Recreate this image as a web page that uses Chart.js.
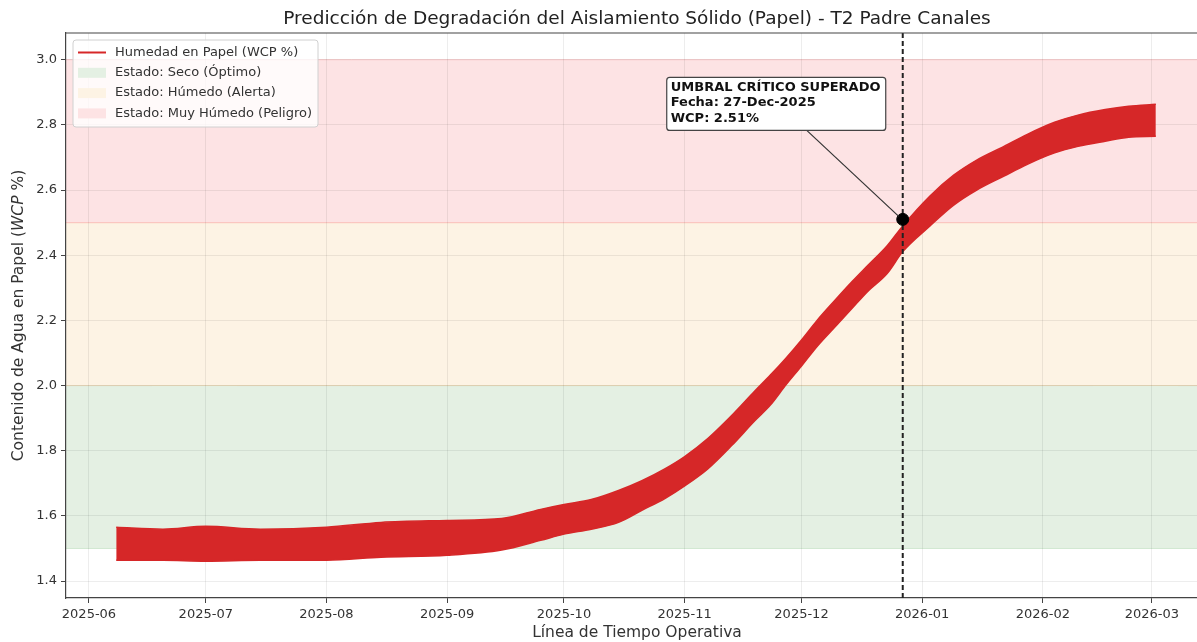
<!DOCTYPE html>
<html lang="es">
<head>
<meta charset="UTF-8">
<title>Predicción de Degradación del Aislamiento Sólido (Papel)</title>
<script src="https://cdn.jsdelivr.net/npm/chart.js"></script>
<style>
  html, body { margin: 0; padding: 0; background: #fff; overflow: hidden; }
  #wrap { width: 1197px; height: 642px; overflow: hidden; }
</style>
</head>
<body>
<div id="wrap"><canvas id="wcp-chart" width="1215" height="642"></canvas></div>
<script>
// envelope of the noisy WCP series at these dates
const sampleDates = [
  '2025-06-08', '2025-06-20', '2025-07-01', '2025-07-15', '2025-08-01', '2025-08-15',
  '2025-09-01', '2025-09-15', '2025-09-25', '2025-10-01', '2025-10-08', '2025-10-15',
  '2025-10-21', '2025-10-27', '2025-11-01', '2025-11-07', '2025-11-13', '2025-11-19',
  '2025-11-23', '2025-11-27', '2025-12-01', '2025-12-05', '2025-12-10', '2025-12-14',
  '2025-12-18', '2025-12-23', '2025-12-27', '2026-01-03', '2026-01-09', '2026-01-15',
  '2026-01-22', '2026-01-28', '2026-02-04', '2026-02-10', '2026-02-17', '2026-02-23',
  '2026-03-02'
];
const wcpUpper = [
  1.565, 1.559, 1.568, 1.559, 1.565, 1.580,
  1.586, 1.592, 1.620, 1.635, 1.650, 1.678,
  1.708, 1.745, 1.782, 1.838, 1.907, 1.983,
  2.032, 2.084, 2.140, 2.200, 2.267, 2.319,
  2.368, 2.429, 2.490, 2.582, 2.645, 2.692,
  2.734, 2.771, 2.808, 2.830, 2.847, 2.857,
  2.863
];
const wcpLower = [
  1.464, 1.464, 1.461, 1.464, 1.464, 1.473,
  1.479, 1.495, 1.525, 1.544, 1.559, 1.580,
  1.617, 1.654, 1.692, 1.745, 1.815, 1.892,
  1.940, 2.002, 2.060, 2.120, 2.185, 2.237,
  2.289, 2.344, 2.411, 2.490, 2.553, 2.600,
  2.643, 2.679, 2.714, 2.734, 2.750, 2.762,
  2.765
];

const monthTicks = ['2025-06', '2025-07', '2025-08', '2025-09', '2025-10', '2025-11',
                    '2025-12', '2026-01', '2026-02', '2026-03'];
const yTicks = [1.4, 1.6, 1.8, 2.0, 2.2, 2.4, 2.6, 2.8, 3.0];

const zoneNames = ['Estado: Seco (Óptimo)', 'Estado: Húmedo (Alerta)', 'Estado: Muy Húmedo (Peligro)'];
const zoneLimits = [[1.5, 2.0], [2.0, 2.5], [2.5, 3.0]];

const thresholdDate = '2025-12-27';
const thresholdValue = 2.51;
const seriesName = 'Humedad en Papel (WCP %)';

// styles
const zoneFill = ['rgb(228,240,227)', 'rgb(253,243,228)', 'rgb(253,227,228)'];
const zoneEdge = ['rgba(150,200,150,0.35)', 'rgba(240,200,150,0.45)', 'rgba(250,150,150,0.45)'];
const lineRed = '#d62728';
const FONT = '"DejaVu Sans", Verdana, sans-serif';

// days since 2025-06-01
function dayNum(s) {
  const p = s.split('-').map(Number);
  return (Date.UTC(p[0], p[1] - 1, p[2] || 1) - Date.UTC(2025, 5, 1)) / 86400000;
}

const upperPts = sampleDates.map((d, i) => ({ x: dayNum(d), y: wcpUpper[i] }));
const lowerPts = sampleDates.map((d, i) => ({ x: dayNum(d), y: wcpLower[i] }));
const monthValues = monthTicks.map(m => dayNum(m + '-01'));

const decor = {
  id: 'decor',
  beforeDraw(chart) {
    const { ctx, chartArea: a, scales: { y } } = chart;
    ctx.save();
    zoneLimits.forEach((lim, i) => {
      const top = y.getPixelForValue(lim[1]);
      const bot = y.getPixelForValue(lim[0]);
      ctx.fillStyle = zoneFill[i];
      ctx.fillRect(a.left, top, a.right - a.left, bot - top);
      ctx.strokeStyle = zoneEdge[i];
      ctx.lineWidth = 1;
      ctx.beginPath();
      ctx.moveTo(a.left, top); ctx.lineTo(a.right, top);
      ctx.moveTo(a.left, bot); ctx.lineTo(a.right, bot);
      ctx.stroke();
    });
    ctx.restore();
  },
  afterDatasetDraw(chart, args) {
    if (args.index !== 2) return;
    const { ctx, chartArea: a, scales: { x } } = chart;
    const px = x.getPixelForValue(dayNum(thresholdDate));
    ctx.save();
    ctx.strokeStyle = '#222';
    ctx.lineWidth = 2;
    ctx.setLineDash([5, 3]);
    ctx.beginPath();
    ctx.moveTo(px, a.top);
    ctx.lineTo(px, a.bottom);
    ctx.stroke();
    ctx.restore();
  },
  afterDraw(chart) {
    const { ctx, chartArea: a, scales: { x, y } } = chart;
    ctx.save();

    // top spine
    ctx.strokeStyle = '#444';
    ctx.lineWidth = 1.2;
    ctx.beginPath();
    ctx.moveTo(a.left, a.top); ctx.lineTo(a.right, a.top);
    ctx.stroke();

    // title
    const cx = (a.left + a.right) / 2;
    ctx.fillStyle = '#222';
    ctx.textAlign = 'center';
    ctx.textBaseline = 'middle';
    ctx.font = '18.5px ' + FONT;
    ctx.fillText('Predicción de Degradación del Aislamiento Sólido (Papel) - T2 Padre Canales', cx, 19);

    // x title
    ctx.font = '15.5px ' + FONT;
    ctx.fillStyle = '#333';
    ctx.fillText('Línea de Tiempo Operativa', cx, 633);

    // y title, WCP in italics
    const parts = [['Contenido de Agua en Papel (', 'normal'], ['WCP', 'italic'], [' %)', 'normal']];
    const widths = parts.map(p => { ctx.font = p[1] + ' 15.5px ' + FONT; return ctx.measureText(p[0]).width; });
    const total = widths.reduce((s, w) => s + w, 0);
    ctx.translate(19, (a.top + a.bottom) / 2);
    ctx.rotate(-Math.PI / 2);
    ctx.textAlign = 'left';
    let tx = -total / 2;
    parts.forEach((p, i) => {
      ctx.font = p[1] + ' 15.5px ' + FONT;
      ctx.fillText(p[0], tx, 0);
      tx += widths[i];
    });
    ctx.setTransform(1, 0, 0, 1, 0, 0);

    // legend
    const lx = a.left + 7, ly = a.top + 7, lw = 245, lh = 87;
    ctx.fillStyle = 'rgba(255,255,255,0.8)';
    ctx.strokeStyle = '#d0d0d0';
    ctx.lineWidth = 1;
    ctx.beginPath();
    ctx.roundRect(lx, ly, lw, lh, 3);
    ctx.fill();
    ctx.stroke();
    const rows = [seriesName].concat(zoneNames);
    ctx.font = '13px ' + FONT;
    ctx.textAlign = 'left';
    ctx.textBaseline = 'middle';
    rows.forEach((label, i) => {
      const ry = ly + 12.5 + i * 20.3;
      if (i === 0) {
        ctx.strokeStyle = lineRed;
        ctx.lineWidth = 2;
        ctx.beginPath();
        ctx.moveTo(lx + 5, ry); ctx.lineTo(lx + 33, ry);
        ctx.stroke();
      } else {
        ctx.fillStyle = zoneFill[i - 1];
        ctx.fillRect(lx + 5, ry - 5, 28, 10);
      }
      ctx.fillStyle = '#333';
      ctx.fillText(label, lx + 42, ry);
    });

    // annotation box + arrow
    const mx = x.getPixelForValue(dayNum(thresholdDate));
    const my = y.getPixelForValue(thresholdValue);
    const bx = mx - 236, by = my - 142, bw = 219, bh = 53;
    ctx.strokeStyle = '#333';
    ctx.lineWidth = 1.2;
    ctx.beginPath();
    ctx.moveTo(mx - 96, by + bh);
    ctx.lineTo(mx - 4, my - 3);
    ctx.stroke();
    ctx.fillStyle = '#fff';
    ctx.strokeStyle = '#444';
    ctx.beginPath();
    ctx.roundRect(bx, by, bw, bh, 3);
    ctx.fill();
    ctx.stroke();
    ctx.fillStyle = '#111';
    ctx.font = 'bold 13px ' + FONT;
    const lines = ['UMBRAL CRÍTICO SUPERADO', 'Fecha: 27-Dec-2025', 'WCP: ' + thresholdValue.toFixed(2) + '%'];
    lines.forEach((t, i) => ctx.fillText(t, bx + 4, by + 10 + i * 15.5));

    ctx.restore();
  }
};

new Chart(document.getElementById('wcp-chart'), {
  type: 'line',
  data: {
    datasets: [
      {
        label: 'Umbral',
        data: [{ x: dayNum(thresholdDate), y: thresholdValue }],
        showLine: false,
        pointRadius: 6,
        pointBackgroundColor: '#000',
        pointBorderColor: '#000',
        order: 0
      },
      {
        label: seriesName,
        data: upperPts,
        borderColor: lineRed,
        borderWidth: 1.5,
        pointRadius: 0,
        cubicInterpolationMode: 'monotone',
        fill: false,
        order: 2
      },
      {
        label: seriesName + ' (inf)',
        data: lowerPts,
        borderColor: lineRed,
        borderWidth: 1.5,
        backgroundColor: lineRed,
        pointRadius: 0,
        cubicInterpolationMode: 'monotone',
        fill: '-1',
        order: 1
      }
    ]
  },
  options: {
    responsive: false,
    devicePixelRatio: 1,
    animation: false,
    layout: { padding: { top: 33, right: 7, left: 0, bottom: 0 } },
    plugins: {
      legend: { display: false },
      title: { display: false },
      tooltip: { enabled: false }
    },
    scales: {
      x: {
        type: 'linear',
        min: -5.9,
        max: 287.4,
        afterBuildTicks: s => { s.ticks = monthValues.map(v => ({ value: v })); },
        afterFit: s => { s.height = 44; },
        ticks: {
          callback: (v, i) => monthTicks[i],
          maxRotation: 0,
          autoSkip: false,
          padding: 4,
          color: '#333',
          font: { family: FONT, size: 13 }
        },
        grid: { color: 'rgba(0,0,0,0.07)', tickColor: '#444', tickLength: 5 },
        border: { display: true, color: '#444', width: 1.2 }
      },
      y: {
        min: 1.348,
        max: 3.082,
        afterBuildTicks: s => { s.ticks = yTicks.map(v => ({ value: v })); },
        afterFit: s => { s.width = 66; },
        ticks: {
          callback: v => v.toFixed(1),
          padding: 4,
          color: '#333',
          font: { family: FONT, size: 13 }
        },
        grid: { color: 'rgba(0,0,0,0.07)', tickColor: '#444', tickLength: 5 },
        border: { display: true, color: '#444', width: 1.2 }
      }
    }
  },
  plugins: [decor]
});
</script>
</body>
</html>
